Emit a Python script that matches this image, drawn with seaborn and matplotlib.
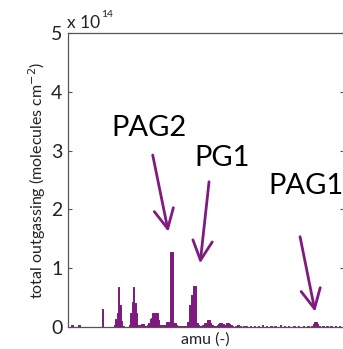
import numpy as np
import pandas as pd
import matplotlib
matplotlib.use("Agg")
import matplotlib.pyplot as plt
import seaborn as sns

# amu values and total outgassing (units of 1e14 molecules cm^-2)
amu = [3, 8, 25,
       34, 35, 36, 37, 38, 39, 40,
       45, 46, 47, 48, 49, 50, 51, 52, 53, 54, 55, 56, 57, 58, 59, 60,
       61, 62, 63, 64, 65, 66, 67, 68, 69, 70, 71, 72, 73, 74, 75, 76,
       77, 78, 79, 80, 81, 82, 83, 84, 85, 86, 87, 88, 89, 90, 91, 92,
       93, 94, 95, 96, 97, 98, 99, 100, 101, 102, 103, 104, 105, 106,
       107, 108, 109, 110, 111, 112, 113, 114, 115, 116, 117, 118, 119,
       120, 122, 124, 126, 128, 130, 133, 136, 139, 142, 145, 148, 151,
       155, 158, 161, 165, 168, 172, 175, 178, 179, 180, 181, 182, 183,
       186, 189, 192, 195, 198]
outgassing = [0.03, 0.03, 0.30,
              0.03, 0.13, 0.23, 0.675, 0.37, 0.10, 0.02,
              0.03, 0.23, 0.42, 0.675, 0.40, 0.23, 0.04, 0.04, 0.02, 0.05,
              0.05, 0.02, 0.02, 0.03, 0.07, 0.13,
              0.15, 0.24, 0.24, 0.24, 0.24, 0.12, 0.03, 0.03, 0.02, 0.03,
              0.03, 0.09, 0.09, 0.09, 1.28, 1.28,
              0.07, 0.06, 0.04, 0.02, 0.02, 0.01, 0.01, 0.01, 0.01, 0.02,
              0.09, 0.09, 0.37, 0.54, 0.54, 0.70,
              0.70, 0.07, 0.03, 0.02, 0.02, 0.03, 0.04, 0.07, 0.07, 0.12,
              0.12, 0.07, 0.03, 0.02,
              0.02, 0.02, 0.03, 0.05, 0.07, 0.07, 0.05, 0.04, 0.04, 0.06,
              0.06, 0.05, 0.03,
              0.02, 0.02, 0.03, 0.01, 0.02, 0.02, 0.01, 0.02, 0.01, 0.03,
              0.01, 0.02, 0.01,
              0.03, 0.01, 0.02, 0.01, 0.02, 0.01, 0.02, 0.01, 0.05, 0.08,
              0.08, 0.05, 0.02,
              0.01, 0.02, 0.01, 0.02, 0.01]

yticks = [0, 1, 2, 3, 4, 5]
labels = ["PAG2", "PG1", "PAG1"]

PURPLE = "#7e1a80"
FONT = ["Lato", "DejaVu Sans"]

sns.set_style("white")
plt.rcParams["font.family"] = FONT

df = pd.DataFrame({"amu": amu, "outgassing": outgassing})

fig = plt.figure(figsize=(3.43, 3.49), dpi=100)
W, H = 343, 349
ax = fig.add_axes([68 / W, (H - 327) / H, (343.5 - 68) / W, (327 - 33) / H])

sns.histplot(data=df, x="amu", weights="outgassing", discrete=True,
             element="step", fill=True, color=PURPLE, alpha=1,
             linewidth=0.7, edgecolor=PURPLE, ax=ax)

ax.set_xlim(0, 201)
ax.set_ylim(0, 5)
ax.set_yticks(yticks)
ax.set_yticklabels([str(t) for t in yticks], fontsize=14, color="#222222")
ax.set_xticks([])
ax.tick_params(axis="y", direction="in", length=3, width=0.8, pad=4,
               right=True, left=True, color="#555555")
for s in ax.spines.values():
    s.set_color("#555555")
    s.set_linewidth(0.9)
    s.set_visible(True)
    s.set_zorder(5)

ax.set_xlabel("amu (-)", fontsize=11.5, color="#222222", labelpad=4)
ax.set_ylabel("total outgassing (molecules cm$^{-2}$)", fontsize=11.5,
              color="#222222", labelpad=2)

fig.text(67 / W, 1 - 28 / H, "x 10", fontsize=12.5, color="#222222",
         ha="left", va="baseline")
fig.text(101 / W, 1 - 17 / H, "14", fontsize=7.5, color="#222222",
         ha="left", va="baseline")

ann = [
    ("PAG2", (59.1, 3.39), (61.8, 2.925), (73.2, 1.62)),
    ("PG1", (112.2, 2.88), (102.9, 2.47), (96.4, 1.083)),
    ("PAG1", (173.7, 2.40), (169.3, 1.536), (180.3, 0.26)),
]
for lab, tpos, tail, tip in ann:
    ax.text(tpos[0], tpos[1], lab, fontsize=21, ha="center", va="center",
            color="black")
    ax.annotate("", xy=tip, xytext=tail,
                arrowprops=dict(arrowstyle="->,head_length=1.4,head_width=0.7",
                                mutation_scale=10, color=PURPLE, lw=2,
                                shrinkA=0, shrinkB=0))

fig.savefig("out.png", dpi=100)
